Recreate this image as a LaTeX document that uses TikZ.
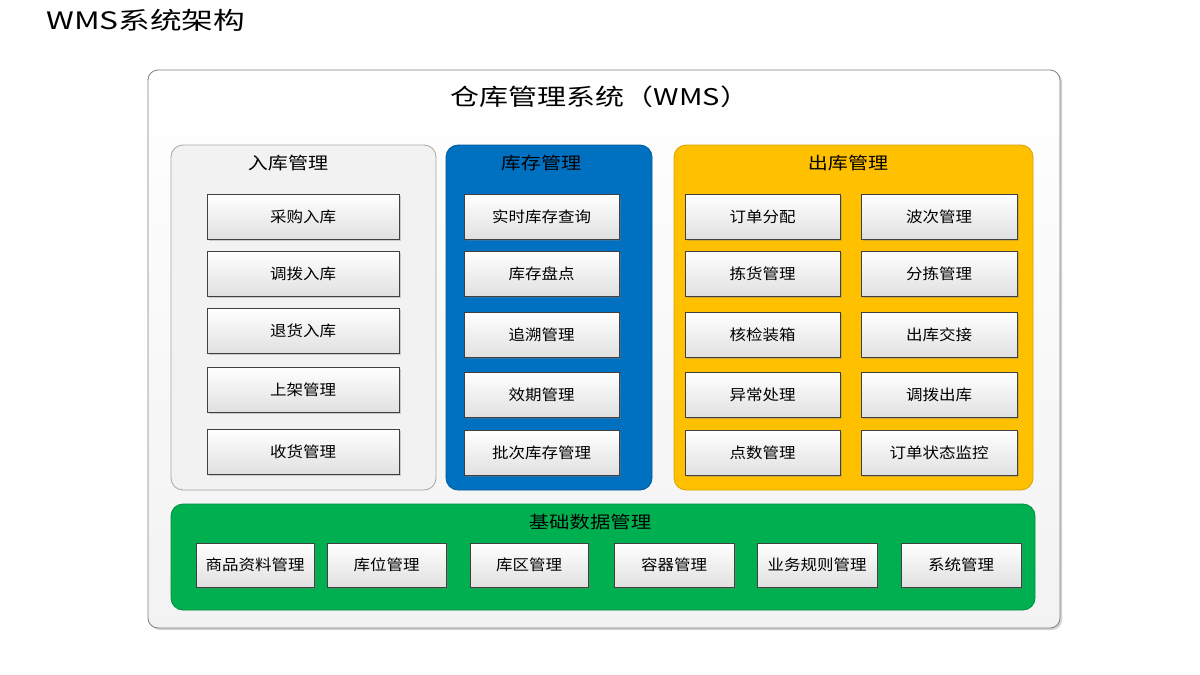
\documentclass[tikz,border=0pt]{standalone}
\usepackage{fontspec}
\usepackage{graphicx}
\setmainfont{Noto Sans CJK SC}
\usetikzlibrary{shadows}
\definecolor{gblue}{HTML}{0070C0}
\definecolor{gyellow}{HTML}{FFC000}
\definecolor{ggreen}{HTML}{00B050}
\definecolor{ggrey}{HTML}{F2F2F2}
\definecolor{bgrey}{HTML}{A6A6A6}
\definecolor{bblue}{HTML}{005A9C}
\definecolor{byellow}{HTML}{D9A300}
\definecolor{bgreen}{HTML}{008C40}
\newcommand{\wide}[2]{\scalebox{#1}[1]{#2}}
\tikzset{
  group/.style={draw=#1, rounded corners=12pt, line width=0.8pt},
  item/.style={draw=black!75, line width=0.8pt, rectangle, minimum height=45pt,
    top color=white, bottom color=black!12, font=\fontsize{15}{17}\selectfont,
    drop shadow={shadow xshift=1.5pt, shadow yshift=-1.5pt, opacity=0.35}, inner sep=0pt},
  glabel/.style={font=\fontsize{17}{19}\selectfont, inner sep=0pt},
}
\begin{document}
\begin{tikzpicture}[x=1pt,y=-1pt]
\fill[white] (0,0) rectangle (1200,675);
\useasboundingbox (0,0) rectangle (1200,675);
\node[font=\fontsize{24}{28}\selectfont, anchor=west, inner sep=0pt] (title) at (46,20) {\wide{1.32}{WMS系统架构}};
% outer
\draw[draw=black!50, line width=0.8pt, rounded corners=10pt, top color=white, bottom color=black!5,
  drop shadow={shadow xshift=2pt, shadow yshift=-2pt, opacity=0.35}] (148,70) rectangle (1060,628);
\node[font=\fontsize{23}{26}\selectfont, inner sep=0pt] (outer) at (600,97) {\wide{1.26}{仓库管理系统（WMS）}};
% groups
\draw[group=bgrey, fill=ggrey] (171,145) rectangle (436,490);
\draw[group=bblue, fill=gblue] (446,145) rectangle (652,490);
\draw[group=byellow, fill=gyellow] (674,145) rectangle (1033,490);
\draw[group=bgreen, fill=ggreen] (171,504) rectangle (1035,610);
\node[glabel] (gin) at (288,163) {\wide{1.18}{入库管理}};
\node[glabel] (gstock) at (541,163) {\wide{1.18}{库存管理}};
\node[glabel] (gout) at (848,163) {\wide{1.18}{出库管理}};
\node[glabel] (gbase) at (590,522) {\wide{1.2}{基础数据管理}};
% inbound
\node[item, minimum width=192pt] (a1) at (303,216.5) {\wide{1.1}{采购入库}};
\node[item, minimum width=192pt] (a2) at (303,273.5) {\wide{1.1}{调拨入库}};
\node[item, minimum width=192pt] (a3) at (303,330.5) {\wide{1.1}{退货入库}};
\node[item, minimum width=192pt] (a4) at (303,389.5) {\wide{1.1}{上架管理}};
\node[item, minimum width=192pt] (a5) at (303,451.5) {\wide{1.1}{收货管理}};
% stock
\node[item, minimum width=155pt] (b1) at (541.5,216.5) {\wide{1.1}{实时库存查询}};
\node[item, minimum width=155pt] (b2) at (541.5,273.5) {\wide{1.1}{库存盘点}};
\node[item, minimum width=155pt] (b3) at (541.5,334.5) {\wide{1.1}{追溯管理}};
\node[item, minimum width=155pt] (b4) at (541.5,394.5) {\wide{1.1}{效期管理}};
\node[item, minimum width=155pt] (b5) at (541.5,452.5) {\wide{1.1}{批次库存管理}};
% outbound
\node[item, minimum width=155pt] (c1) at (762.5,216.5) {\wide{1.1}{订单分配}};
\node[item, minimum width=155pt] (c2) at (762.5,273.5) {\wide{1.1}{拣货管理}};
\node[item, minimum width=155pt] (c3) at (762.5,334.5) {\wide{1.1}{核检装箱}};
\node[item, minimum width=155pt] (c4) at (762.5,394.5) {\wide{1.1}{异常处理}};
\node[item, minimum width=155pt] (c5) at (762.5,452.5) {\wide{1.1}{点数管理}};
\node[item, minimum width=156pt] (d1) at (939,216.5) {\wide{1.1}{波次管理}};
\node[item, minimum width=156pt] (d2) at (939,273.5) {\wide{1.1}{分拣管理}};
\node[item, minimum width=156pt] (d3) at (939,334.5) {\wide{1.1}{出库交接}};
\node[item, minimum width=156pt] (d4) at (939,394.5) {\wide{1.1}{调拨出库}};
\node[item, minimum width=156pt] (d5) at (939,452.5) {\wide{1.1}{订单状态监控}};
% base data
\node[item, minimum width=118pt, minimum height=44pt] (e1) at (255,565) {\wide{1.1}{商品资料管理}};
\node[item, minimum width=119pt, minimum height=44pt] (e2) at (386.5,565) {\wide{1.1}{库位管理}};
\node[item, minimum width=118pt, minimum height=44pt] (e3) at (529,565) {\wide{1.1}{库区管理}};
\node[item, minimum width=120pt, minimum height=44pt] (e4) at (674,565) {\wide{1.1}{容器管理}};
\node[item, minimum width=120pt, minimum height=44pt] (e5) at (817,565) {\wide{1.1}{业务规则管理}};
\node[item, minimum width=120pt, minimum height=44pt] (e6) at (961,565) {\wide{1.1}{系统管理}};
\end{tikzpicture}
\end{document}
